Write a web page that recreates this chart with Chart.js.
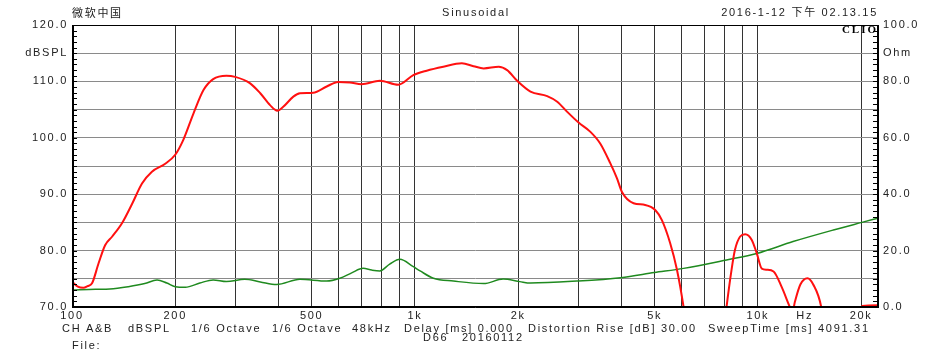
<!DOCTYPE html>
<html><head><meta charset="utf-8">
<script src="https://cdn.jsdelivr.net/npm/chart.js@4/dist/chart.umd.min.js"></script>
<style>html,body{margin:0;padding:0;background:#fff;}#wrap{width:950px;height:358px;position:relative;}</style>
</head><body><div id="wrap"><canvas id="c" width="950" height="358"></canvas></div>
<script>
// SPL response (dBSPL, left axis)
const splFreq = [100,104,108,111,114.4,119.6,125,131,140,150,160,171,187,200,211,226,242,258,282,299,330,354,378,397,413,442,462,505,553,597,646,699,790,894,989,1082,1210,1370,1482,1586,1755,1857,1987,2172,2430,2600,2780,3000,3243,3469,3711,3883,4015,4340,4692,5019,5249,5550,5808,6072,6400,7000,7700,8102,8379,8571,8878,9181,9598,9928,10270,10620,11110,11720,12390,12600,12830,13300,13950,14500,15300,16500,19000,19700,20100,22400];
const splDb = [74.5,73.6,73.4,73.7,74.2,77.8,81.0,82.5,84.9,88.4,91.9,94.0,95.4,97.0,99.6,104.3,108.5,110.4,111.0,110.8,109.7,107.9,105.8,104.8,105.5,107.3,107.9,108.0,109.1,109.9,109.8,109.5,110.1,109.4,111.1,111.9,112.6,113.2,112.7,112.3,112.6,112.0,110.1,108.2,107.4,106.4,104.6,102.7,101.1,99.0,95.5,92.8,90.4,88.4,88.1,87.2,85.4,81.3,76.6,70.0,60,50,58,70.0,76.6,80.1,82.5,82.9,81.9,79.5,76.8,76.6,76.3,73.6,70.0,69.0,71.0,74.0,75.1,74.0,70.0,55,55,62,70.2,70.3];
// Impedance (Ohm, right axis)
const impFreq = [100,117,129,146,163,177,189,200,214,236,258,282,319,354,395,462,553,604,654,706,748,790,844,904,989,1035,1132,1295,1586,1807,2022,2172,2967,3981,4990,6072,8102,9928,12660,16600,20110,22400];
const impOhm = [6.0,6.3,6.4,7.2,8.3,9.6,8.5,7.2,7.0,8.5,9.6,9.0,9.8,8.9,8.0,9.8,9.2,10.2,12.1,13.7,13.1,12.8,15.2,16.9,14.3,12.8,10.2,9.2,8.3,9.9,9.0,8.5,9.2,10.4,12.2,13.7,16.7,19.0,23.2,27.3,30.0,31.5];
// Axis ticks
const xGridTicks = [100,200,300,400,500,600,700,800,900,1000,2000,3000,4000,5000,6000,7000,8000,9000,10000,13700,20000];
const xTickLabels = {100:'100',200:'200',500:'500',1000:'1k',2000:'2k',5000:'5k',10000:'10k',13700:'Hz',20000:'20k'};
const leftTickLabels = {120:'120.0',115:'dBSPL',110:'110.0',100:'100.0',90:'90.0',80:'80.0',70:'70.0'};
const rightTickLabels = {100:'100.0',90:'Ohm',80:'80.0',60:'60.0',40:'40.0',20:'20.0',0:'0.0'};
const headerLeft = '微软中国';
const headerMid = 'Sinusoidal';
const headerRight = '2016-1-12 下午 02.13.15';
const footerItems = ['CH A&B','dBSPL','1/6 Octave','1/6 Octave','48kHz','Delay [ms] 0.000','Distortion Rise [dB] 30.00','SweepTime [ms] 4091.31'];
const footerX = [62,128,191,272,352,404,528,708];

const FONT = '"Liberation Sans", Arial, sans-serif';
const SPACING = '1.7px';

const deco = {
  id:'deco',
  beforeDraw(chart){ chart.ctx.letterSpacing = SPACING; },
  afterDraw(chart){
    const ctx = chart.ctx, a = chart.chartArea;
    const ys = chart.scales.y, y1 = chart.scales.y1;
    ctx.save();
    ctx.letterSpacing = SPACING;
    // frame
    ctx.strokeStyle = '#000'; ctx.lineWidth = 1;
    ctx.strokeRect(a.left+0.5, a.top+0.5, a.right-a.left-1, a.bottom-a.top-1);
    ctx.lineWidth = 2;
    ctx.beginPath(); ctx.moveTo(a.left+1, a.top); ctx.lineTo(a.left+1, a.bottom); ctx.stroke();
    // minor inside ticks
    ctx.lineWidth = 1;
    ctx.beginPath();
    for(let v=70; v<=120; v++){
      const p = Math.round(ys.getPixelForValue(v))+0.5;
      ctx.moveTo(a.left, p); ctx.lineTo(a.left+5, p);
    }
    for(let v=0; v<=100; v+=2){
      const p = Math.round(y1.getPixelForValue(v))+0.5;
      ctx.moveTo(a.right-5, p); ctx.lineTo(a.right, p);
    }
    ctx.stroke();
    // header
    ctx.fillStyle = '#222';
    ctx.textBaseline = 'middle';
    ctx.font = '11px "Noto Sans CJK SC", sans-serif';
    ctx.textAlign = 'left'; ctx.fillText(headerLeft, 72, 13);
    ctx.font = '11px ' + FONT;
    ctx.textAlign = 'center'; ctx.fillText(headerMid, 476, 13);
    ctx.font = '11px "Liberation Sans", "Noto Sans CJK SC", sans-serif';
    ctx.textAlign = 'right'; ctx.fillText(headerRight, 878, 13);
    // CLIO mark
    ctx.fillStyle = '#000';
    ctx.letterSpacing = '2px';
    ctx.font = 'bold 11px "Liberation Serif", serif';
    ctx.textAlign = 'right'; ctx.fillText('CLIO', 878, 30);
    ctx.letterSpacing = SPACING;
    // footer
    ctx.fillStyle = '#222';
    ctx.font = '11px ' + FONT;
    ctx.textAlign = 'left';
    footerItems.forEach((t,i)=>ctx.fillText(t, footerX[i], 329));
    ctx.fillText('D66', 423, 338);
    ctx.fillText('20160112', 462, 338);
    ctx.fillText('File:', 72, 346);
    ctx.restore();
  }
};

new Chart(document.getElementById('c'), {
  type:'line',
  data:{datasets:[
    {label:'SPL', data:splFreq.map((f,i)=>({x:f,y:splDb[i]})), yAxisID:'y', borderColor:'#ff1010', borderWidth:2, pointRadius:0, cubicInterpolationMode:'monotone', clip:0},
    {label:'Impedance', data:impFreq.map((f,i)=>({x:f,y:impOhm[i]})), yAxisID:'y1', borderColor:'#1f8a1f', borderWidth:1.5, pointRadius:0, cubicInterpolationMode:'monotone', clip:0}
  ]},
  options:{
    responsive:false, animation:false, devicePixelRatio:1,
    layout:{padding:{top:25,left:0,right:0,bottom:0}},
    plugins:{legend:{display:false}, tooltip:{enabled:false}},
    scales:{
      x:{type:'logarithmic', min:100, max:22400,
        afterBuildTicks:(s)=>{s.ticks = xGridTicks.map(v=>({value:v}));},
        afterFit:(s)=>{s.height = 51;},
        ticks:{autoSkip:false, maxRotation:0, padding:2, color:'#222', font:{family:FONT,size:11},
          callback:(v)=>xTickLabels[v]||''},
        grid:{drawTicks:false, color:(c)=>c.tick && c.tick.value===13700 ? 'rgba(0,0,0,0)' : '#333', lineWidth:1},
        border:{display:true,color:'#000'}
      },
      y:{type:'linear', position:'left', min:70, max:120,
        afterBuildTicks:(s)=>{const t=[];for(let v=70;v<=120;v+=5)t.push({value:v});s.ticks=t;},
        afterFit:(s)=>{s.width = 72;},
        ticks:{autoSkip:false, padding:4, color:'#222', font:{family:FONT,size:11}, callback:(v)=>leftTickLabels[v]||''},
        grid:{drawTicks:false, color:'#8a8a8a', lineWidth:1},
        border:{display:true,color:'#000'}
      },
      y1:{type:'linear', position:'right', min:0, max:100,
        afterBuildTicks:(s)=>{const t=[];for(let v=0;v<=100;v+=10)t.push({value:v});s.ticks=t;},
        afterFit:(s)=>{s.width = 72;},
        ticks:{autoSkip:false, padding:5, color:'#222', font:{family:FONT,size:11}, callback:(v)=>rightTickLabels[v]||''},
        grid:{display:false, drawTicks:false},
        border:{display:true,color:'#000'}
      }
    }
  },
  plugins:[deco]
});
</script></body></html>
